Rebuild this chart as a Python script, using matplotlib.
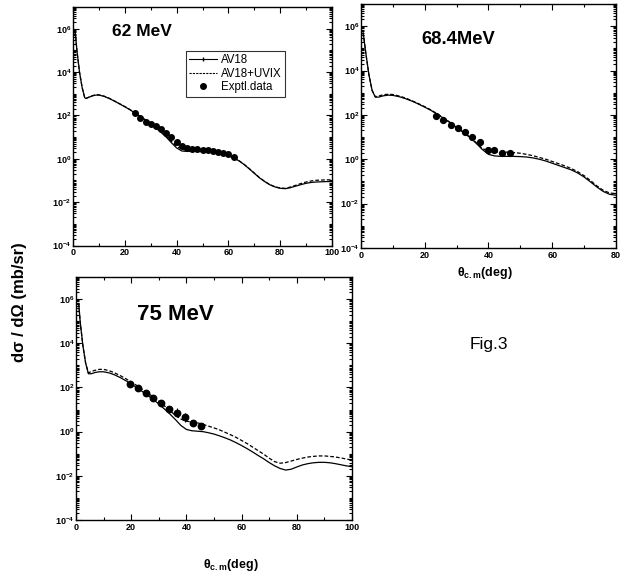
import numpy as np
import matplotlib
matplotlib.use("Agg")
import matplotlib.pyplot as plt
from matplotlib.lines import Line2D
from matplotlib.ticker import FixedLocator, LogLocator, MultipleLocator, FuncFormatter, NullFormatter

plt.rcParams['font.family'] = ['Liberation Sans', 'DejaVu Sans']
plt.rcParams['mathtext.fontset'] = 'custom'
plt.rcParams['mathtext.rm'] = 'Liberation Sans'
plt.rcParams['mathtext.bf'] = 'Liberation Sans:bold'
plt.rcParams['mathtext.it'] = 'Liberation Sans:italic'

# ---- 62 MeV (log10 of dsigma/dOmega) ----
th62 = [0.8, 1.5, 2.5, 3.5, 4.5, 5, 6, 7, 8, 9, 10, 12, 14, 16, 18, 20, 22, 24, 26, 28,
        30, 32, 34, 36, 38, 40, 42, 44, 46, 48, 50, 52, 54, 56, 58, 60, 62, 64, 66, 68,
        70, 72, 74, 76, 78, 80, 82, 84, 86, 88, 90, 92, 94, 96, 98, 100]
av18_62 = [5.9, 5.0, 4.0, 3.3, 2.82, 2.78, 2.83, 2.88, 2.92, 2.94, 2.94, 2.88, 2.78, 2.66,
           2.53, 2.40, 2.26, 2.10, 1.95, 1.78, 1.60, 1.42, 1.22, 1.00, 0.74, 0.50, 0.36,
           0.34, 0.34, 0.34, 0.33, 0.31, 0.29, 0.26, 0.21, 0.14, 0.04, -0.09, -0.26, -0.46,
           -0.67, -0.88, -1.05, -1.20, -1.30, -1.36, -1.38, -1.33, -1.26, -1.19, -1.13,
           -1.09, -1.07, -1.06, -1.05, -1.05]
uvix_62 = [5.9, 5.0, 4.0, 3.3, 2.82, 2.79, 2.84, 2.89, 2.93, 2.95, 2.95, 2.89, 2.79, 2.67,
           2.54, 2.41, 2.27, 2.11, 1.96, 1.79, 1.61, 1.43, 1.24, 1.03, 0.80, 0.58, 0.44,
           0.39, 0.37, 0.36, 0.35, 0.33, 0.30, 0.27, 0.22, 0.15, 0.05, -0.08, -0.25, -0.45,
           -0.66, -0.87, -1.04, -1.19, -1.29, -1.35, -1.36, -1.30, -1.22, -1.14, -1.07,
           -1.02, -0.99, -0.98, -0.97, -0.97]
exp_th62 = [24, 26, 28, 30, 32, 34, 36, 38, 40, 42, 44, 46, 48, 50, 52, 54, 56, 58, 60, 62]
exp_62 = [2.11, 1.88, 1.72, 1.61, 1.52, 1.37, 1.18, 1.00, 0.79, 0.61, 0.52, 0.46, 0.44,
          0.41, 0.40, 0.38, 0.33, 0.29, 0.23, 0.07]
err_62 = [0.05] * 20

# ---- 68.4 MeV ----
th68 = [0.7, 1.5, 2.5, 3.5, 4.5, 5.5, 7, 8.5, 10, 12, 14, 16, 18, 20, 22, 24, 26, 28, 30,
        32, 34, 36, 38, 40, 42, 44, 46, 48, 50, 52, 54, 56, 58, 60, 62, 64, 66, 68, 70,
        72, 74, 76, 78, 80]
av18_68 = [5.7, 4.8, 3.8, 3.1, 2.80, 2.80, 2.86, 2.89, 2.88, 2.82, 2.73, 2.62, 2.49, 2.35,
           2.20, 2.02, 1.84, 1.64, 1.43, 1.22, 1.00, 0.74, 0.45, 0.22, 0.15, 0.13, 0.13,
           0.13, 0.12, 0.10, 0.06, 0.0, -0.08, -0.18, -0.28, -0.38, -0.48, -0.62, -0.80,
           -1.02, -1.25, -1.45, -1.58, -1.62]
uvix_68 = [5.7, 4.8, 3.8, 3.1, 2.82, 2.85, 2.91, 2.93, 2.92, 2.85, 2.76, 2.64, 2.51, 2.37,
           2.22, 2.04, 1.86, 1.66, 1.45, 1.24, 1.02, 0.77, 0.50, 0.35, 0.32, 0.32, 0.32,
           0.30, 0.27, 0.22, 0.16, 0.08, 0.0, -0.10, -0.20, -0.30, -0.42, -0.56, -0.74,
           -0.96, -1.20, -1.40, -1.52, -1.55]
exp_th68 = [23.5, 25.8, 28.1, 30.3, 32.6, 34.9, 37.3, 39.7, 41.8, 44.3, 46.7]
exp_68 = [1.96, 1.77, 1.56, 1.41, 1.22, 0.99, 0.80, 0.44, 0.43, 0.29, 0.27]
err_68 = [0.06, 0.06, 0.06, 0.06, 0.06, 0.07, 0.07, 0.12, 0.12, 0.12, 0.12]

# ---- 75 MeV ----
th75 = [1.0, 1.5, 2.5, 3.5, 4.5, 5.5, 7, 8.5, 10, 12, 14, 16, 18, 20, 22, 24, 26, 28, 30,
        32, 34, 36, 38, 40, 42, 44, 46, 48, 50, 52, 54, 56, 58, 60, 62, 64, 66, 68, 70,
        72, 74, 76, 78, 80, 82, 84, 86, 88, 90, 92, 94, 96, 98, 100]
av18_75 = [5.8, 5.0, 3.9, 3.1, 2.62, 2.62, 2.68, 2.71, 2.71, 2.66, 2.57, 2.45, 2.31, 2.16,
           2.00, 1.82, 1.64, 1.46, 1.25, 1.03, 0.80, 0.55, 0.28, 0.10, 0.04, 0.02, 0.0,
           -0.05, -0.11, -0.19, -0.28, -0.38, -0.50, -0.63, -0.77, -0.92, -1.08, -1.23,
           -1.40, -1.55, -1.67, -1.74, -1.70, -1.60, -1.51, -1.45, -1.41, -1.39, -1.39,
           -1.41, -1.45, -1.50, -1.55, -1.59]
uvix_75 = [5.8, 5.0, 3.9, 3.1, 2.66, 2.72, 2.78, 2.82, 2.82, 2.76, 2.66, 2.54, 2.40, 2.25,
           2.09, 1.92, 1.75, 1.57, 1.38, 1.17, 0.95, 0.74, 0.57, 0.47, 0.44, 0.40, 0.33,
           0.25, 0.17, 0.08, -0.03, -0.14, -0.26, -0.40, -0.54, -0.70, -0.86, -1.02, -1.20,
           -1.36, -1.43, -1.40, -1.33, -1.26, -1.20, -1.15, -1.12, -1.10, -1.10, -1.12,
           -1.15, -1.19, -1.24, -1.29]
exp_th75 = [19.6, 22.3, 25.2, 28.0, 30.8, 33.7, 36.5, 39.5, 42.5, 45.2]
exp_75 = [2.14, 1.96, 1.76, 1.53, 1.31, 1.01, 0.86, 0.65, 0.40, 0.25]
err_75 = [0.06, 0.06, 0.06, 0.06, 0.07, 0.08, 0.2, 0.2, 0.12, 0.15]

DASH = (0, (3, 1.6))


def log_label(v, pos):
    e = int(round(np.log10(v)))
    return r'$\mathbf{10^{%d}}$' % e


def style_axis(ax, xmax):
    ax.set_yscale('log')
    ax.set_ylim(1e-4, 1e7)
    ax.set_xlim(0, xmax)
    ax.yaxis.set_major_locator(FixedLocator([1e-4, 1e-2, 1e0, 1e2, 1e4, 1e6]))
    ax.yaxis.set_major_formatter(FuncFormatter(log_label))
    ax.yaxis.set_minor_locator(LogLocator(base=10, subs=np.arange(1, 10), numticks=30))
    ax.yaxis.set_minor_formatter(NullFormatter())
    ax.xaxis.set_major_locator(MultipleLocator(20))
    ax.xaxis.set_minor_locator(MultipleLocator(10))
    ax.tick_params(which='both', direction='in', top=True, right=True, width=0.8,
                   labelsize=6.5)
    ax.tick_params(axis='x', pad=2)
    ax.tick_params(axis='y', pad=1.2)
    ax.tick_params(which='major', length=4)
    ax.tick_params(which='minor', length=2)
    for lab in ax.get_xticklabels():
        lab.set_fontweight('bold')
    for s in ax.spines.values():
        s.set_linewidth(1.0)


def draw(ax, th, a, u, eth, ev, er, ms):
    ax.plot(th, 10 ** np.array(a), color='black', lw=0.9)
    ax.plot(th, 10 ** np.array(u), color='black', lw=0.9, ls=DASH)
    ev = np.array(ev)
    er = np.array(er)
    yerr = [10 ** ev - 10 ** (ev - er), 10 ** (ev + er) - 10 ** ev]
    ax.errorbar(eth, 10 ** ev, yerr=yerr, fmt='o', color='black', ms=ms,
                elinewidth=0.8, capsize=0)


fig = plt.figure(figsize=(6.29, 5.77), dpi=100)
ax1 = fig.add_axes([0.1161, 0.5745, 0.4118, 0.4133])
ax2 = fig.add_axes([0.5739, 0.5702, 0.4054, 0.4229])
ax3 = fig.add_axes([0.1208, 0.0988, 0.4388, 0.4211])

draw(ax1, th62, av18_62, uvix_62, exp_th62, exp_62, err_62, 4)
draw(ax2, th68, av18_68, uvix_68, exp_th68, exp_68, err_68, 4.2)
draw(ax3, th75, av18_75, uvix_75, exp_th75, exp_75, err_75, 4.6)

style_axis(ax1, 100)
style_axis(ax2, 80)
style_axis(ax3, 100)

# nudge the "100" of the top-left panel away from the neighbour's 10^-4
ax1.get_xticklabels()[-1].set_horizontalalignment('right')

fig.text(112 / 629, 1 - 31 / 577, '62 MeV', fontsize=12.5,
         fontweight='bold', va='center', ha='left')
fig.text(421 / 629, 1 - 39 / 577, '68.4MeV', fontsize=13.2,
         fontweight='bold', va='center', ha='left')
fig.text(137 / 629, 1 - 314 / 577, '75 MeV', fontsize=16,
         fontweight='bold', va='center', ha='left')

h1 = Line2D([], [], color='black', lw=0.8, marker='|', ms=2.5)
h2 = Line2D([], [], color='black', lw=0.8, ls=(0, (2, 1)))
h3 = Line2D([], [], color='black', ls='none', marker='o', ms=4)
leg = ax1.legend([h1, h2, h3], ['AV18', 'AV18+UVIX', 'Exptl.data'],
                 loc='upper left', bbox_to_anchor=(186 / 629, 1 - 51 / 577),
                 bbox_transform=fig.transFigure, fontsize=8.3, frameon=True,
                 fancybox=False, edgecolor='black', handlelength=2.4,
                 handletextpad=0.3, borderpad=0.3, labelspacing=0.12,
                 borderaxespad=0, numpoints=1)
leg.get_frame().set_linewidth(0.8)

fig.text(20 / 629, 1 - 302 / 577, 'dσ / dΩ (mb/sr)', rotation=90, fontsize=12,
         fontweight='bold', ha='center', va='center')
fig.text(485 / 629, 1 - 273 / 577, r'$\mathbf{θ_{c.m}}$(deg)', fontsize=9,
         fontweight='bold', ha='center', va='center')
fig.text(231 / 629, 1 - 565 / 577, r'$\mathbf{θ_{c.m}}$(deg)', fontsize=9,
         fontweight='bold', ha='center', va='center')
fig.text(470 / 629, 1 - 345 / 577, 'Fig.3', fontsize=12.5, ha='left', va='center')

fig.savefig('out.png', dpi=100)
